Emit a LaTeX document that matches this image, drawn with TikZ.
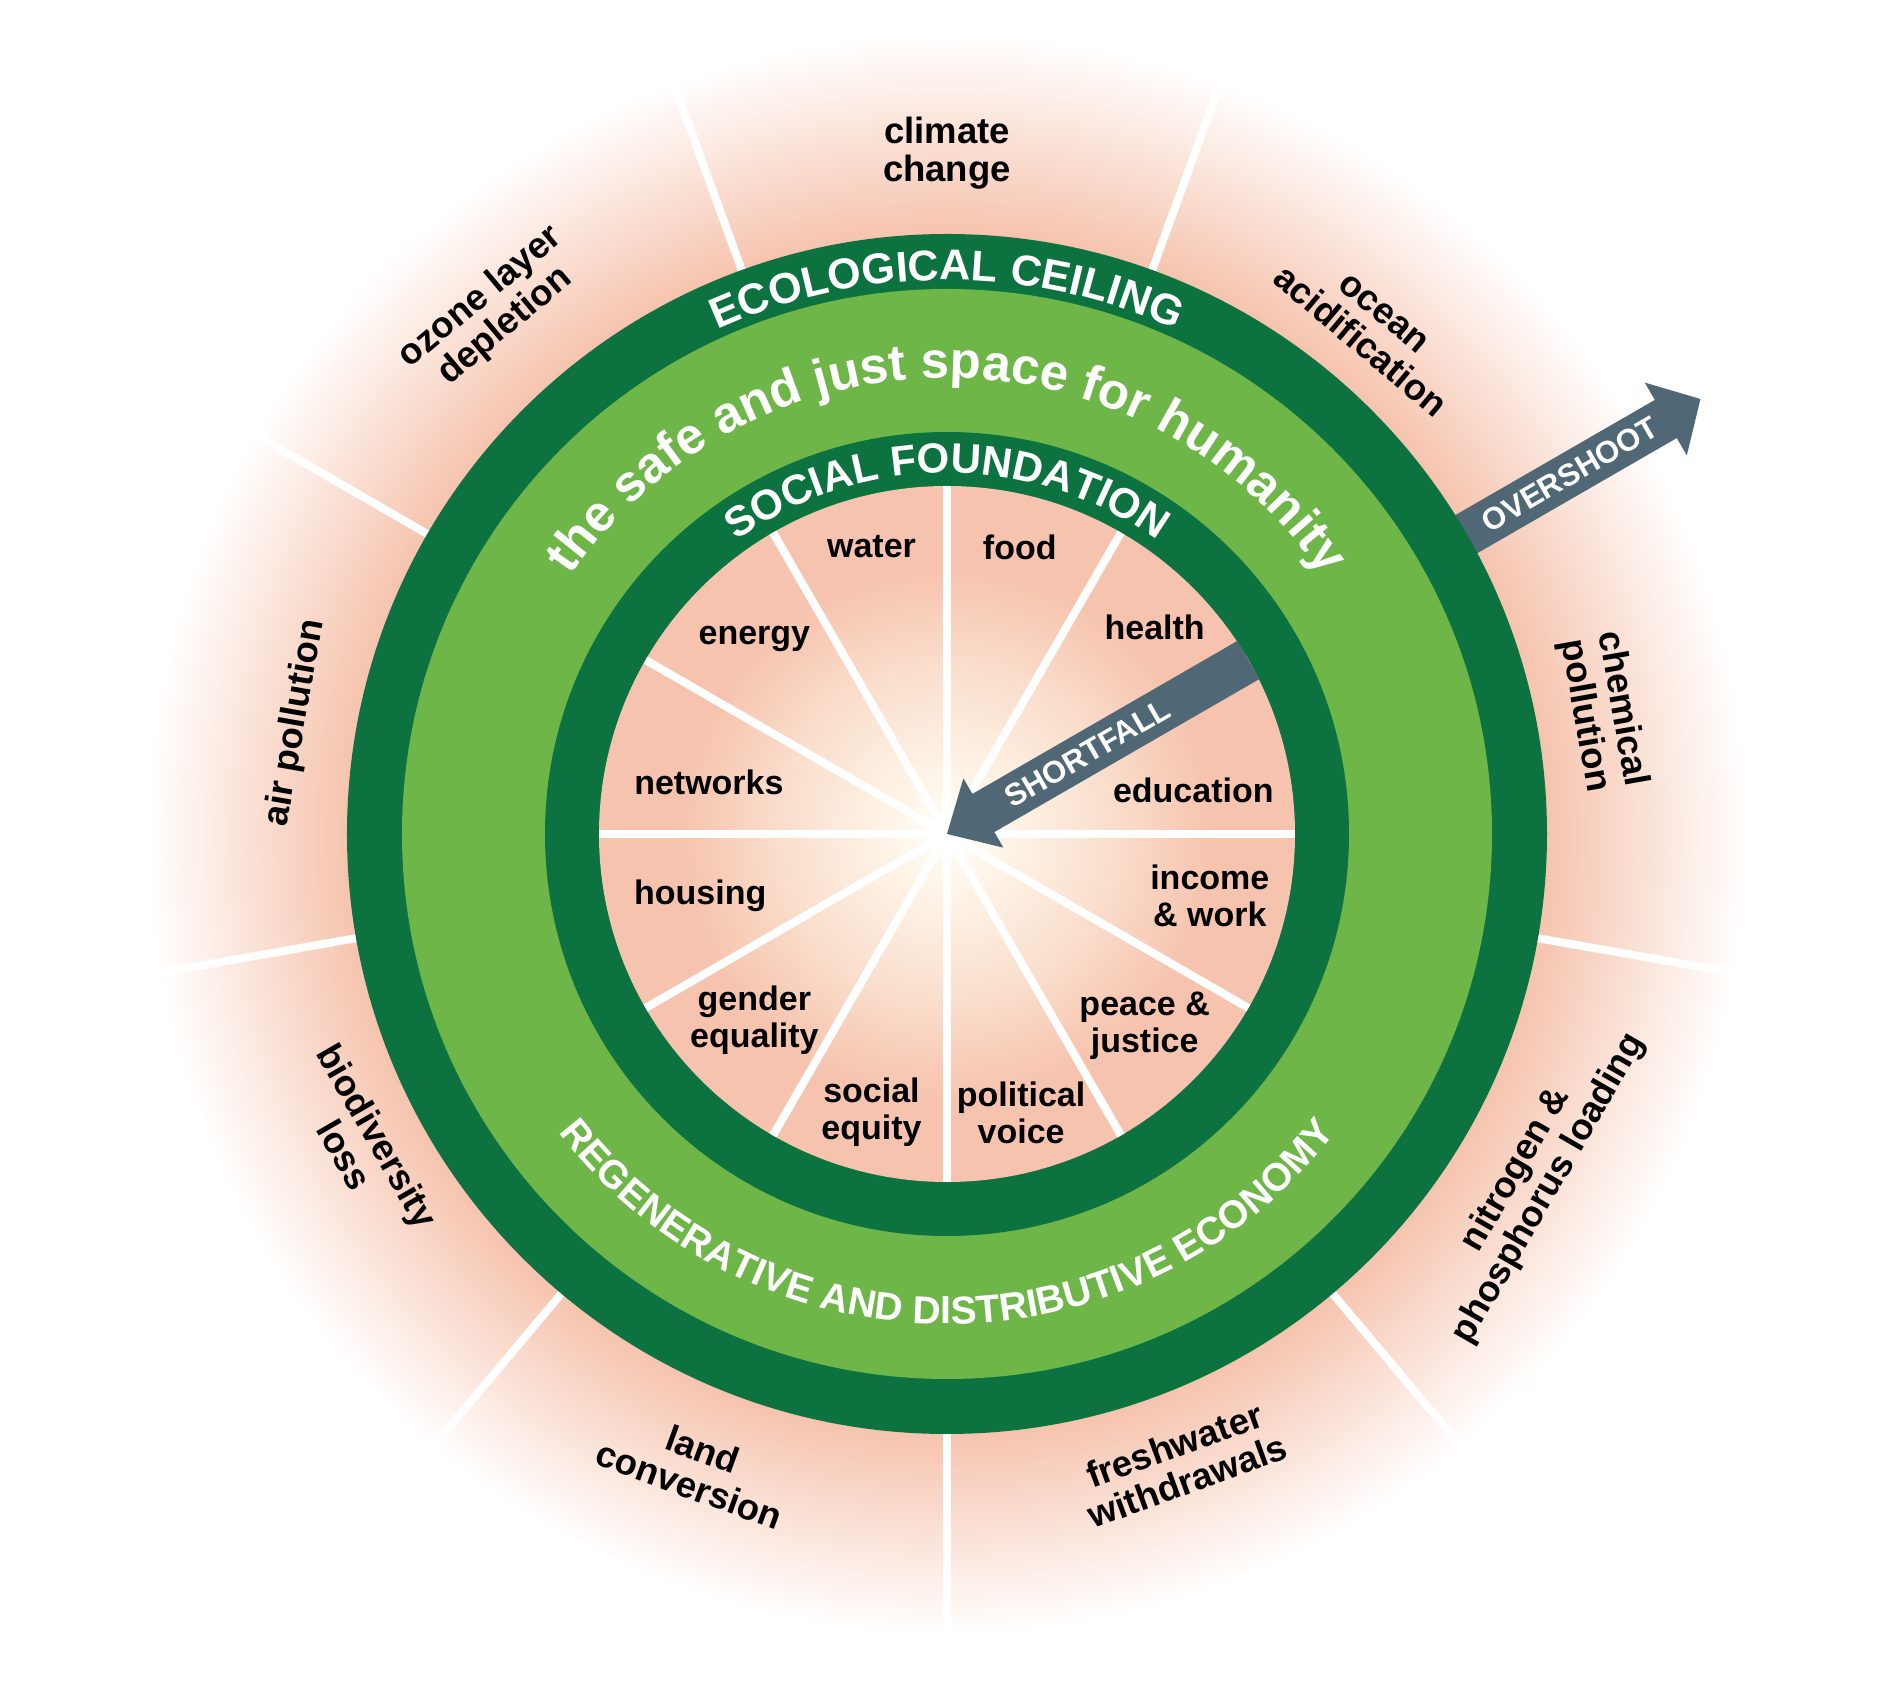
\documentclass[tikz,border=0pt]{standalone}
\usepackage{fontspec}
\setmainfont{Liberation Sans}
\usetikzlibrary{decorations.text}
\definecolor{dgreen}{RGB}{11,114,64}
\definecolor{lgreen}{RGB}{110,182,72}
\definecolor{peach}{RGB}{246,196,174}
\definecolor{slate}{RGB}{80,103,117}
\definecolor{cream}{RGB}{254,246,234}
\definecolor{peachlt}{RGB}{250,222,204}
\pgfdeclareradialshading{outerglow}{\pgfpoint{0bp}{0bp}}{color(0bp)=(peach); color(18.3bp)=(peach); color(24.4bp)=(white); color(50bp)=(white)}
\pgfdeclareradialshading{innerglow}{\pgfpoint{0bp}{0bp}}{color(0bp)=(white); color(3.5bp)=(cream); color(12bp)=(peachlt); color(19bp)=(peach); color(50bp)=(peach)}
\begin{document}
\begin{tikzpicture}[x=1pt,y=1pt,
  outlbl/.style={font=\fontsize{36.5}{38}\selectfont\bfseries, align=center, text=black, inner sep=0pt},
  inlbl/.style={font=\fontsize{34}{37}\selectfont\bfseries, align=center, text=black, inner sep=0pt},
  spoke/.style={draw=white, line width=8pt},
  arrowtxt/.style={font=\fontsize{31}{31}\selectfont\bfseries, text=white, rotate=30, inner sep=0pt}]
\useasboundingbox (-947,-851) rectangle (943,834);
\fill[white] (-947,-851) rectangle (943,834);
\coordinate (O) at (0,0);
% outer glow
\shade[shading=outerglow] (O) circle (820);
% outer spokes
\foreach \a in {110,70,30,-10,-50,-90,-130,-170,150}
  \draw[spoke] (\a:560) -- (\a:800);
% overshoot arrow
\begin{scope}[rotate=30]
  \fill[slate] (560,-22) -- (830,-22) -- (830,-42) -- (870,0) -- (830,42) -- (830,22) -- (560,22) -- cycle;
\end{scope}
% rings
\fill[dgreen] (O) circle (600);
\fill[lgreen] (O) circle (545);
\fill[dgreen] (O) circle (402);
\shade[shading=innerglow] (O) circle (348);
% inner spokes
\foreach \a in {0,30,...,330}
  \draw[spoke] (O) -- (\a:348);
% shortfall arrow
\begin{scope}[rotate=30]
  \fill[slate] (348,22) -- (42,22) -- (42,40) -- (0,0) -- (42,-40) -- (42,-22) -- (348,-22) -- cycle;
\end{scope}
\node[arrowtxt] (short) at (30:162) {SHORTFALL};
\node[arrowtxt] (over) at (30:719) {OVERSHOOT};
% ring texts
\path[decorate, decoration={text along path, text align=center,
  text={|\fontsize{43}{43}\selectfont\bfseries\color{white}|ECOLOGICAL CEILING}}]
  (180:554) arc[start angle=180, end angle=0, radius=554];
\path[decorate, decoration={text along path, text align=center,
  text={|\fontsize{51}{51}\selectfont\bfseries\color{white}|the safe and just space for humanity}}]
  (180:456) arc[start angle=180, end angle=0, radius=456];
\path[decorate, decoration={text along path, text align=center,
  text={|\fontsize{42}{42}\selectfont\bfseries\color{white}|SOCIAL FOUNDATION}}]
  (180:361) arc[start angle=180, end angle=0, radius=361];
\path[decorate, decoration={text along path, text align=center,
  text={|\fontsize{39}{39}\selectfont\bfseries\color{white}|REGENERATIVE AND DISTRIBUTIVE ECONOMY}}]
  (180:490) arc[start angle=180, end angle=360, radius=490];
% inner labels
\node[inlbl] (water) at (-75.5,287) {water};
\node[inlbl] (food) at (72.8,287) {food};
\node[inlbl] (health) at (207.7,206.5) {health};
\node[inlbl] (education) at (246.3,43.6) {education};
\node[inlbl] (income) at (262.8,-61.6) {income\\\& work};
\node[inlbl] (peace) at (197.7,-192.1) {peace \&\\justice};
\node[inlbl] (political) at (74.1,-278.4) {political\\voice};
\node[inlbl] (equity) at (-75.5,-278.4) {social\\equity};
\node[inlbl] (gender) at (-192.6,-185.8) {gender\\equality};
\node[inlbl] (housing) at (-246.8,-61.6) {housing};
\node[inlbl] (networks) at (-238.1,52) {networks};
\node[inlbl] (energy) at (-192.6,195.1) {energy};
% outer labels
\node[outlbl] (climate) at (90:681) {climate\\change};
\node[outlbl, rotate=-40] (ocean) at (50:660) {ocean\\acidification};
\node[outlbl, rotate=-80] (chemical) at (10.5:667) {chemical\\pollution};
\node[outlbl, rotate=60] (nitrogen) at (-30.5:680) {nitrogen \&\\phosphorus loading};
\node[outlbl, rotate=20] (freshwater) at (-69.6:671) {freshwater\\withdrawals};
\node[outlbl, rotate=-20] (land) at (-111.6:681) {land\\conversion};
\node[outlbl, rotate=-60] (biodiv) at (-152:663) {biodiversity\\loss};
\node[outlbl, rotate=80] (air) at (170.3:661) {air pollution};
\node[outlbl, rotate=40] (ozone) at (131:692) {ozone layer\\depletion};
\end{tikzpicture}
\end{document}
